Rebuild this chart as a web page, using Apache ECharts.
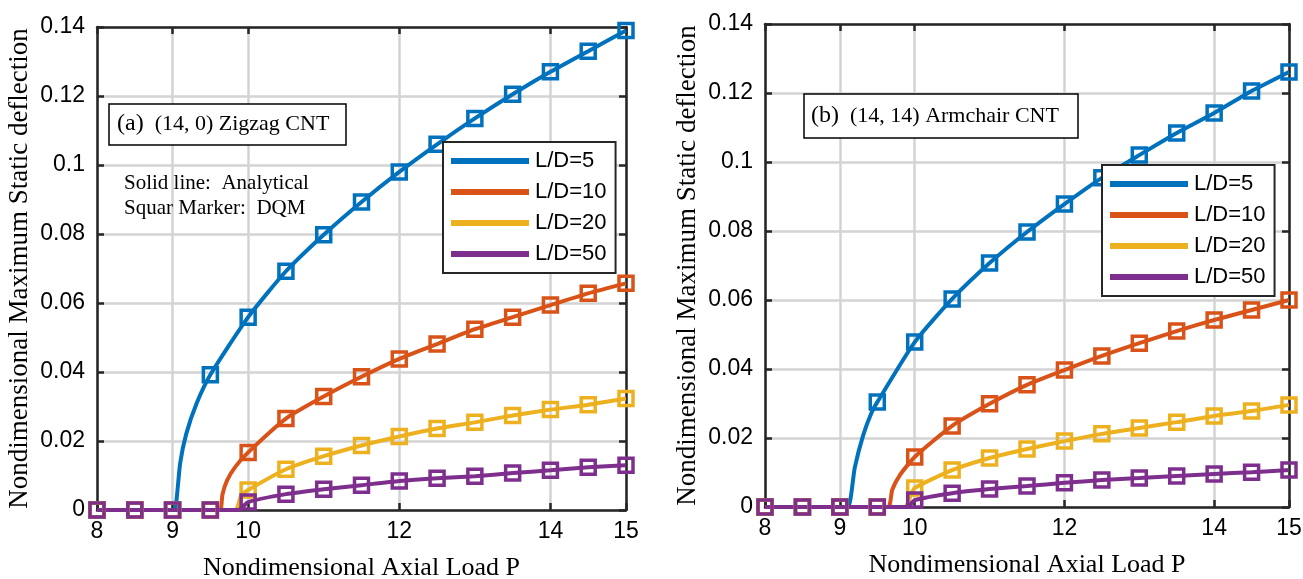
<!DOCTYPE html>
<html>
<head>
<meta charset="utf-8">
<script src="https://cdn.jsdelivr.net/npm/echarts@6/dist/echarts.min.js"></script>
<style>
  html, body { margin: 0; padding: 0; background: #fff; }
  #chart { width: 1303px; height: 579px; }
</style>
</head>
<body>
<div id="chart"></div>
<script>
// marker positions (DQM), shared by both panels
const loadP = [8, 8.5, 9, 9.5, 10, 10.5, 11, 11.5, 12, 12.5, 13, 13.5, 14, 14.5, 15];
const xTickValues = [8, 9, 10, 12, 14, 15];
const seriesNames = ["L/D=5", "L/D=10", "L/D=20", "L/D=50"];
const lineColors = ["#0072BD", "#D95319", "#EDB120", "#7E2F8E"];

// (a) (14, 0) zigzag CNT - DQM values
const zigzagLD5 = [0, 0, 0, 0.0392, 0.0559, 0.0692, 0.0798, 0.0893, 0.098, 0.106, 0.1135, 0.1205, 0.127, 0.133, 0.139];
const zigzagLD10 = [0, 0, 0, 0, 0.0167, 0.0265, 0.0329, 0.0386, 0.0438, 0.0481, 0.0524, 0.0559, 0.0594, 0.0628, 0.0657];
const zigzagLD20 = [0, 0, 0, 0, 0.0058, 0.0118, 0.0156, 0.0187, 0.0213, 0.0236, 0.0254, 0.0274, 0.0291, 0.0305, 0.0323];
const zigzagLD50 = [0, 0, 0, 0, 0.0023, 0.0046, 0.006, 0.0072, 0.0084, 0.0092, 0.0098, 0.0107, 0.0115, 0.0124, 0.013];
// analytical curve, extra points read near the critical load
const zigzagOnsetLD5 = [[9.03, 0], [9.1, 0.0135], [9.18, 0.022], [9.32, 0.031]];
const zigzagOnsetLD10 = [[9.63, 0], [9.66, 0.0045], [9.72, 0.0085], [9.83, 0.0125]];
const zigzagOnsetLD20 = [[9.83, 0], [9.91, 0.0043]];
const zigzagOnsetLD50 = [[9.87, 0]];

// (b) (14, 14) armchair CNT - DQM values
const armchairLD5 = [0, 0, 0, 0.0304, 0.0478, 0.0603, 0.0707, 0.0797, 0.0878, 0.0954, 0.102, 0.1084, 0.1142, 0.1206, 0.1261];
const armchairLD10 = [0, 0, 0, 0, 0.0145, 0.0235, 0.0299, 0.0354, 0.0397, 0.0438, 0.0475, 0.051, 0.0542, 0.0571, 0.06];
const armchairLD20 = [0, 0, 0, 0, 0.0055, 0.0107, 0.0142, 0.0168, 0.0191, 0.0212, 0.0229, 0.0246, 0.0264, 0.0278, 0.0296];
const armchairLD50 = [0, 0, 0, 0, 0.002, 0.004, 0.0052, 0.0061, 0.007, 0.0078, 0.0084, 0.009, 0.0096, 0.0101, 0.0107];
const armchairOnsetLD5 = [[9.11, 0], [9.2, 0.0115], [9.31, 0.0207], [9.42, 0.0272]];
const armchairOnsetLD10 = [[9.65, 0], [9.7, 0.005], [9.8, 0.0092]];
const armchairOnsetLD20 = [[9.87, 0], [9.94, 0.003]];
const armchairOnsetLD50 = [[9.9, 0]];

const axisColor = "#262626";
const tickFont = "'Liberation Sans', Arial, sans-serif";
const serifFont = "'Liberation Serif', 'Times New Roman', serif";

function curvePoints(dqm, onset) {
  let pts = loadP.map((p, i) => [p, dqm[i]]);
  pts = pts.concat(onset);
  pts.sort((a, b) => a[0] - b[0]);
  return pts;
}

function panelSeries(gridIdx, dqmList, onsetList) {
  const lines = [];
  const markers = [];
  dqmList.forEach((dqm, k) => {
    lines.push({
      name: seriesNames[k],
      type: "line",
      xAxisIndex: gridIdx * 2,
      yAxisIndex: gridIdx * 2,
      data: curvePoints(dqm, onsetList[k]),
      showSymbol: false,
      symbol: "none",
      smooth: 0.2,
      color: lineColors[k],
      lineStyle: { width: 4, color: lineColors[k] },
      z: 2,
      animation: false,
    });
    markers.push({
      name: "DQM " + seriesNames[k],
      type: "scatter",
      xAxisIndex: gridIdx * 2,
      yAxisIndex: gridIdx * 2,
      data: loadP.map((p, i) => [p, dqm[i]]),
      symbol: "rect",
      symbolSize: 14,
      clip: false,
      itemStyle: { color: "transparent", borderColor: lineColors[k], borderWidth: 3.5, opacity: 1 },
      z: 3,
      animation: false,
    });
  });
  return lines.concat(markers);
}

function xAxes(gridIdx) {
  return [
    {
      gridIndex: gridIdx,
      type: "value",
      position: "bottom",
      min: 8,
      max: 15,
      name: "Nondimensional Axial Load P",
      nameLocation: "middle",
      nameGap: 45,
      nameTextStyle: { fontFamily: serifFont, fontSize: 26, color: "#000" },
      axisLine: { onZero: false, lineStyle: { color: axisColor, width: 2.5 } },
      axisTick: { inside: true, length: 7, customValues: xTickValues, lineStyle: { color: axisColor, width: 2.5 } },
      axisLabel: { customValues: xTickValues, margin: 10, fontFamily: tickFont, fontSize: 23, color: "#000" },
      splitLine: { show: true, lineStyle: { color: "#d3d3d3", width: 2.5 } },
    },
    {
      gridIndex: gridIdx,
      type: "value",
      position: "top",
      min: 8,
      max: 15,
      axisLine: { onZero: false, lineStyle: { color: axisColor, width: 2.5 } },
      axisTick: { inside: true, length: 7, customValues: xTickValues, lineStyle: { color: axisColor, width: 2.5 } },
      axisLabel: { show: false },
      splitLine: { show: false },
    },
  ];
}

function yAxes(gridIdx) {
  return [
    {
      gridIndex: gridIdx,
      type: "value",
      position: "left",
      min: 0,
      max: 0.14,
      interval: 0.02,
      name: "Nondimensional Maximum Static deflection",
      nameLocation: "middle",
      nameGap: 64,
      nameTextStyle: { fontFamily: serifFont, fontSize: 27, color: "#000" },
      axisLine: { onZero: false, lineStyle: { color: axisColor, width: 2.5 } },
      axisTick: { inside: true, length: 7, lineStyle: { color: axisColor, width: 2.5 } },
      axisLabel: { margin: 12, fontFamily: tickFont, fontSize: 23, color: "#000" },
      splitLine: { show: true, lineStyle: { color: "#d3d3d3", width: 2.5 } },
    },
    {
      gridIndex: gridIdx,
      type: "value",
      position: "right",
      min: 0,
      max: 0.14,
      interval: 0.02,
      axisLine: { onZero: false, lineStyle: { color: axisColor, width: 2.5 } },
      axisTick: { inside: true, length: 7, lineStyle: { color: axisColor, width: 2.5 } },
      axisLabel: { show: false },
      splitLine: { show: false },
    },
  ];
}

function legendAt(left, top) {
  return {
    data: seriesNames,
    orient: "vertical",
    left: left,
    top: top,
    icon: "rect",
    itemWidth: 78,
    itemHeight: 6,
    itemGap: 9,
    padding: [8, 9, 8, 8],
    backgroundColor: "#fff",
    borderColor: axisColor,
    borderWidth: 2,
    borderRadius: 0,
    selectedMode: false,
    textStyle: { fontFamily: tickFont, fontSize: 22, color: "#000", lineHeight: 21, padding: [0, 0, 0, 1] },
  };
}

const chart = echarts.init(document.getElementById("chart"), null, { renderer: "canvas" });

chart.setOption({
  backgroundColor: "#fff",
  animation: false,
  grid: [
    { left: 97, right: 677, top: 27, bottom: 69, outerBoundsMode: "none", containLabel: false },
    { left: 765, right: 14, top: 24, bottom: 72, outerBoundsMode: "none", containLabel: false },
  ],
  xAxis: xAxes(0).concat(xAxes(1)),
  yAxis: yAxes(0).concat(yAxes(1)),
  legend: [legendAt(443, 142), legendAt(1102, 165)],
  series: panelSeries(0, [zigzagLD5, zigzagLD10, zigzagLD20, zigzagLD50],
      [zigzagOnsetLD5, zigzagOnsetLD10, zigzagOnsetLD20, zigzagOnsetLD50])
    .concat(panelSeries(1, [armchairLD5, armchairLD10, armchairLD20, armchairLD50],
      [armchairOnsetLD5, armchairOnsetLD10, armchairOnsetLD20, armchairOnsetLD50])),
  graphic: [
    {
      type: "rect",
      shape: { x: 109, y: 104, width: 237, height: 41 },
      style: { fill: "#fff", stroke: "#000", lineWidth: 1.5 },
      z: 10,
    },
    {
      type: "text",
      x: 117,
      y: 124,
      style: {
        text: "{b|(a)}  (14, 0) Zigzag CNT",
        font: "22px " + serifFont,
        fill: "#000",
        verticalAlign: "middle",
        rich: { b: { fontSize: 24, fontFamily: serifFont } },
      },
      z: 11,
    },
    {
      type: "text",
      x: 124,
      y: 196,
      style: {
        text: "Solid line:  Analytical\nSquar Marker:  DQM",
        font: "21px " + serifFont,
        lineHeight: 25,
        fill: "#000",
        verticalAlign: "middle",
      },
      z: 11,
    },
    {
      type: "rect",
      shape: { x: 804, y: 94, width: 274, height: 44 },
      style: { fill: "#fff", stroke: "#000", lineWidth: 1.5 },
      z: 10,
    },
    {
      type: "text",
      x: 811,
      y: 116,
      style: {
        text: "{b|(b)}  (14, 14) Armchair CNT",
        font: "22px " + serifFont,
        fill: "#000",
        verticalAlign: "middle",
        rich: { b: { fontSize: 24, fontFamily: serifFont } },
      },
      z: 11,
    },
  ],
});
</script>
</body>
</html>
